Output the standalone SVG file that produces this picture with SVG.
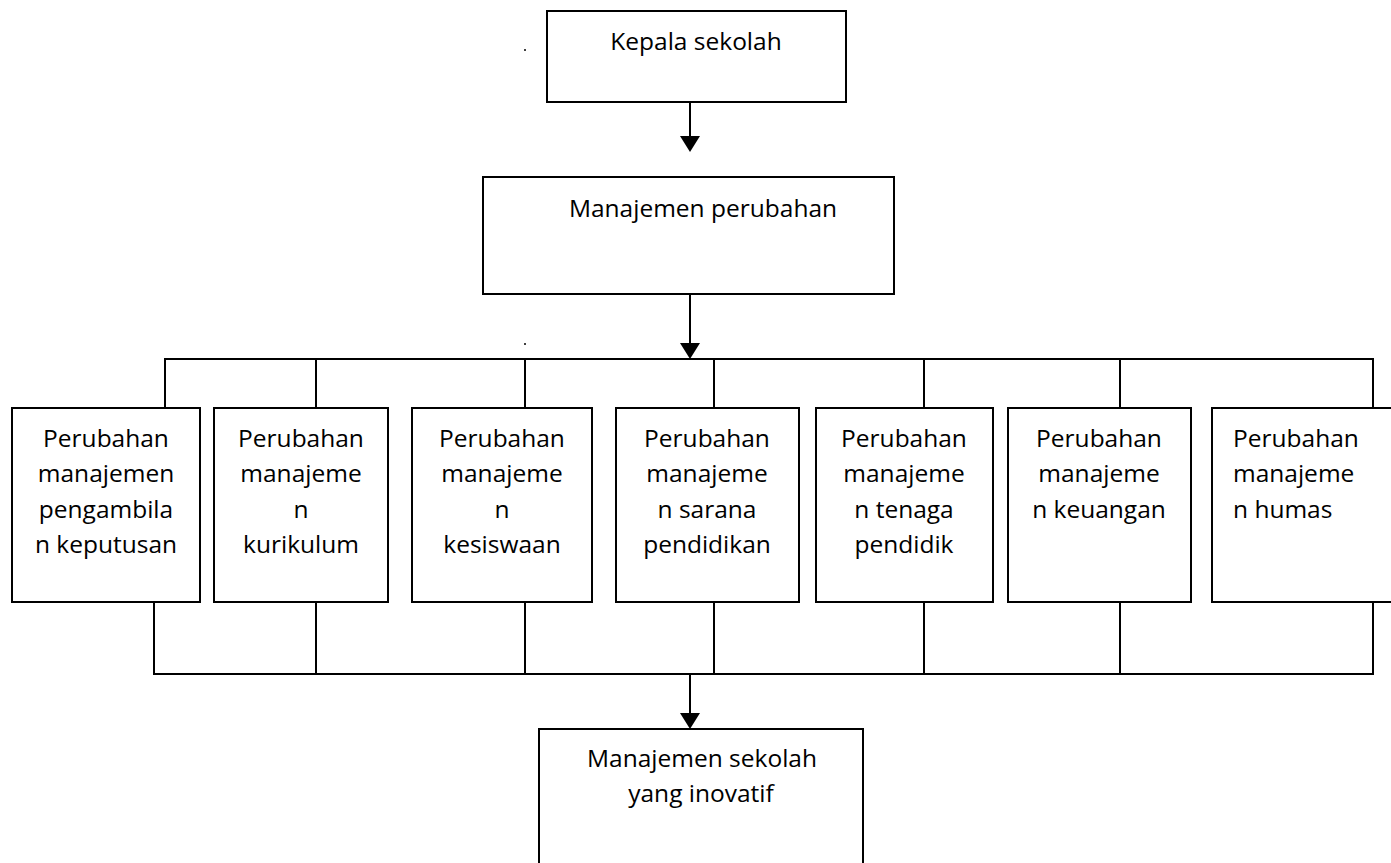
<svg xmlns="http://www.w3.org/2000/svg" width="1391" height="863" viewBox="0 0 1391 863">
<style>
.box{fill:#fff;stroke:#000;stroke-width:2}
.ln{fill:none;stroke:#000;stroke-width:2}
.t{font-family:"Open Sans","Liberation Sans",sans-serif;font-size:24.5px;fill:#000;text-anchor:middle}
.tl{font-family:"Open Sans","Liberation Sans",sans-serif;font-size:24.5px;fill:#000;text-anchor:start}
</style>
<defs>
<marker id="ah" markerWidth="10" markerHeight="8" refX="10" refY="4" orient="auto" markerUnits="userSpaceOnUse" viewBox="0 0 10 8">
<path d="M0,0 L10,4 L0,8 Z" fill="#000"/>
</marker>
</defs>
<rect width="1391" height="863" fill="#fff"/>
<g id="connectors">
<line class="ln" x1="690" y1="102" x2="690" y2="136"/>
<path d="M680,136 L700,136 L690,152 Z" fill="#000"/>
<line class="ln" x1="690" y1="294" x2="690" y2="343"/>
<path d="M680,343 L700,343 L690,359 Z" fill="#000"/>
<polyline class="ln" points="165,408 165,359 1373,359 1373,408"/>
<line class="ln" x1="316" y1="359" x2="316" y2="408"/>
<line class="ln" x1="525" y1="359" x2="525" y2="408"/>
<line class="ln" x1="714" y1="359" x2="714" y2="408"/>
<line class="ln" x1="924" y1="359" x2="924" y2="408"/>
<line class="ln" x1="1120" y1="359" x2="1120" y2="408"/>
<polyline class="ln" points="154,602 154,674 1373,674 1373,602"/>
<line class="ln" x1="316" y1="602" x2="316" y2="674"/>
<line class="ln" x1="525" y1="602" x2="525" y2="674"/>
<line class="ln" x1="714" y1="602" x2="714" y2="674"/>
<line class="ln" x1="924" y1="602" x2="924" y2="674"/>
<line class="ln" x1="1120" y1="602" x2="1120" y2="674"/>
<line class="ln" x1="690" y1="674" x2="690" y2="713"/>
<path d="M680,713 L700,713 L690,729 Z" fill="#000"/>
</g>
<g id="dots">
<circle cx="525" cy="50" r="1" fill="#000"/>
<circle cx="525" cy="344" r="1" fill="#000"/>
</g>
<g id="kepala">
<rect class="box" x="547" y="11" width="299" height="91"/>
<text class="t" x="696" y="50">Kepala sekolah</text>
</g>
<g id="manajemen-perubahan">
<rect class="box" x="483" y="177" width="411" height="117"/>
<text class="t" x="703" y="217">Manajemen perubahan</text>
</g>
<g id="p1">
<rect class="box" x="12" y="408" width="188" height="194"/>
<text class="t" x="106" y="447">Perubahan</text>
<text class="t" x="106" y="482">manajemen</text>
<text class="t" x="106" y="518">pengambila</text>
<text class="t" x="106" y="553">n keputusan</text>
</g>
<g id="p2">
<rect class="box" x="214" y="408" width="174" height="194"/>
<text class="t" x="301" y="447">Perubahan</text>
<text class="t" x="301" y="482">manajeme</text>
<text class="t" x="301" y="518">n</text>
<text class="t" x="301" y="553">kurikulum</text>
</g>
<g id="p3">
<rect class="box" x="412" y="408" width="180" height="194"/>
<text class="t" x="502" y="447">Perubahan</text>
<text class="t" x="502" y="482">manajeme</text>
<text class="t" x="502" y="518">n</text>
<text class="t" x="502" y="553">kesiswaan</text>
</g>
<g id="p4">
<rect class="box" x="616" y="408" width="183" height="194"/>
<text class="t" x="707" y="447">Perubahan</text>
<text class="t" x="707" y="482">manajeme</text>
<text class="t" x="707" y="518">n sarana</text>
<text class="t" x="707" y="553">pendidikan</text>
</g>
<g id="p5">
<rect class="box" x="816" y="408" width="177" height="194"/>
<text class="t" x="904" y="447">Perubahan</text>
<text class="t" x="904" y="482">manajeme</text>
<text class="t" x="904" y="518">n tenaga</text>
<text class="t" x="904" y="553">pendidik</text>
</g>
<g id="p6">
<rect class="box" x="1008" y="408" width="183" height="194"/>
<text class="t" x="1099" y="447">Perubahan</text>
<text class="t" x="1099" y="482">manajeme</text>
<text class="t" x="1099" y="518">n keuangan</text>
</g>
<g id="p7">
<rect class="box" x="1212" y="408" width="200" height="194"/>
<text class="tl" x="1233" y="447">Perubahan</text>
<text class="tl" x="1233" y="482">manajeme</text>
<text class="tl" x="1233" y="518">n humas</text>
</g>
<g id="manajemen-sekolah">
<rect class="box" x="539" y="729" width="324" height="150"/>
<text class="t" x="702" y="767">Manajemen sekolah</text>
<text class="t" x="701" y="802">yang inovatif</text>
</g>
</svg>
